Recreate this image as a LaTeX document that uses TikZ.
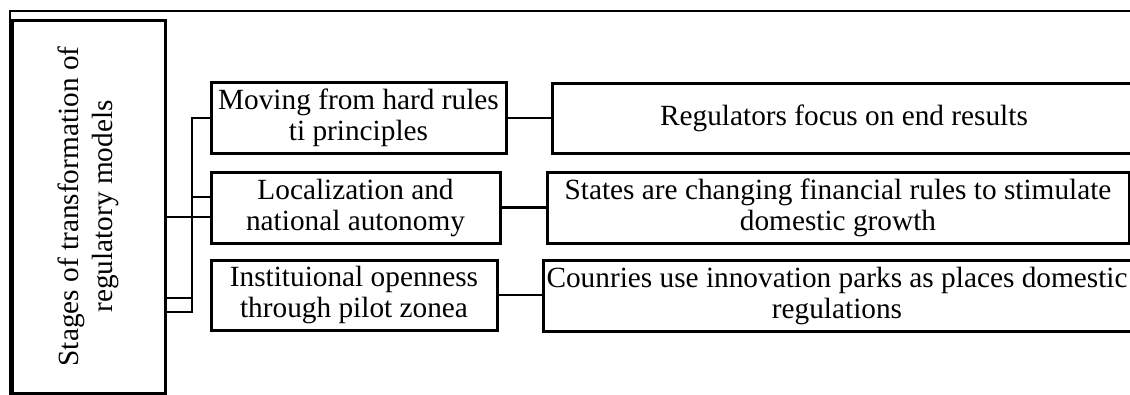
\documentclass[tikz,border=0pt]{standalone}
\usepackage{fontspec}
\setmainfont{Liberation Serif}
\begin{document}
\begin{tikzpicture}[x=1pt,y=-1pt,
  box/.style={draw=black,line width=3pt,inner sep=1pt,align=center,
    font=\fontsize{29.3}{31}\selectfont},
  conn/.style={draw=black,line width=2.8pt},
  frame/.style={draw=black,line width=2pt}]
\path[use as bounding box] (0,0) rectangle (1130,394);
\clip (0,0) rectangle (1130,394);
% outer frame
\coordinate (fa) at (10,396);
\coordinate (fb) at (10,11);
\coordinate (fc) at (1132,11);
\draw[frame] (fa) -- (fb) -- (fc);
% left box
\node[box,rotate=90,minimum width=373pt,minimum height=153pt,
  font=\fontsize{29.3}{34}\selectfont] (L) at (88.5,206.5)
  {Stages of transformation of\\regulatory models};
% middle boxes
\node[box,minimum width=295pt,minimum height=71pt] (M1) at (358.5,118)
  {Moving from hard rules\\ti principles};
\node[box,minimum width=289pt,minimum height=71pt] (M2) at (355.5,207.5)
  {Localization and\\national autonomy};
\node[box,minimum width=286pt,minimum height=70pt] (M3) at (354,295)
  {Instituional openness\\through pilot zonea};
% right boxes
\node[box,minimum width=584pt,minimum height=70pt] (R1) at (844,118)
  {Regulators focus on end results};
\node[box,minimum width=582pt,minimum height=71pt] (R2) at (838,207.5)
  {States are changing financial rules to stimulate\\domestic growth};
\node[box,minimum width=588pt,minimum height=71pt] (R3) at (837,295.5)
  {Counries use innovation parks as places domestic\\regulations};
% bus connectors
\coordinate (b1) at (192,118);
\coordinate (b2) at (192,197);
\coordinate (b4) at (192,298);
\coordinate (b5) at (192,312);
\coordinate (m) at (0,217);
\draw[conn] (M1.west) -- (b1) -- (b5) -- (L.south |- b5);
\draw[conn] (b2) -- (M2.west |- b2);
\draw[conn] (L.south |- m) -- (M2.west |- m);
\draw[conn] (L.south |- b4) -- (b4);
% right connectors
\draw[conn] (M1.east) -- (R1.west |- M1.east);
\draw[conn] (M2.east) -- (R2.west |- M2.east);
\draw[conn] (M3.east) -- (R3.west |- M3.east);
\end{tikzpicture}
\end{document}
